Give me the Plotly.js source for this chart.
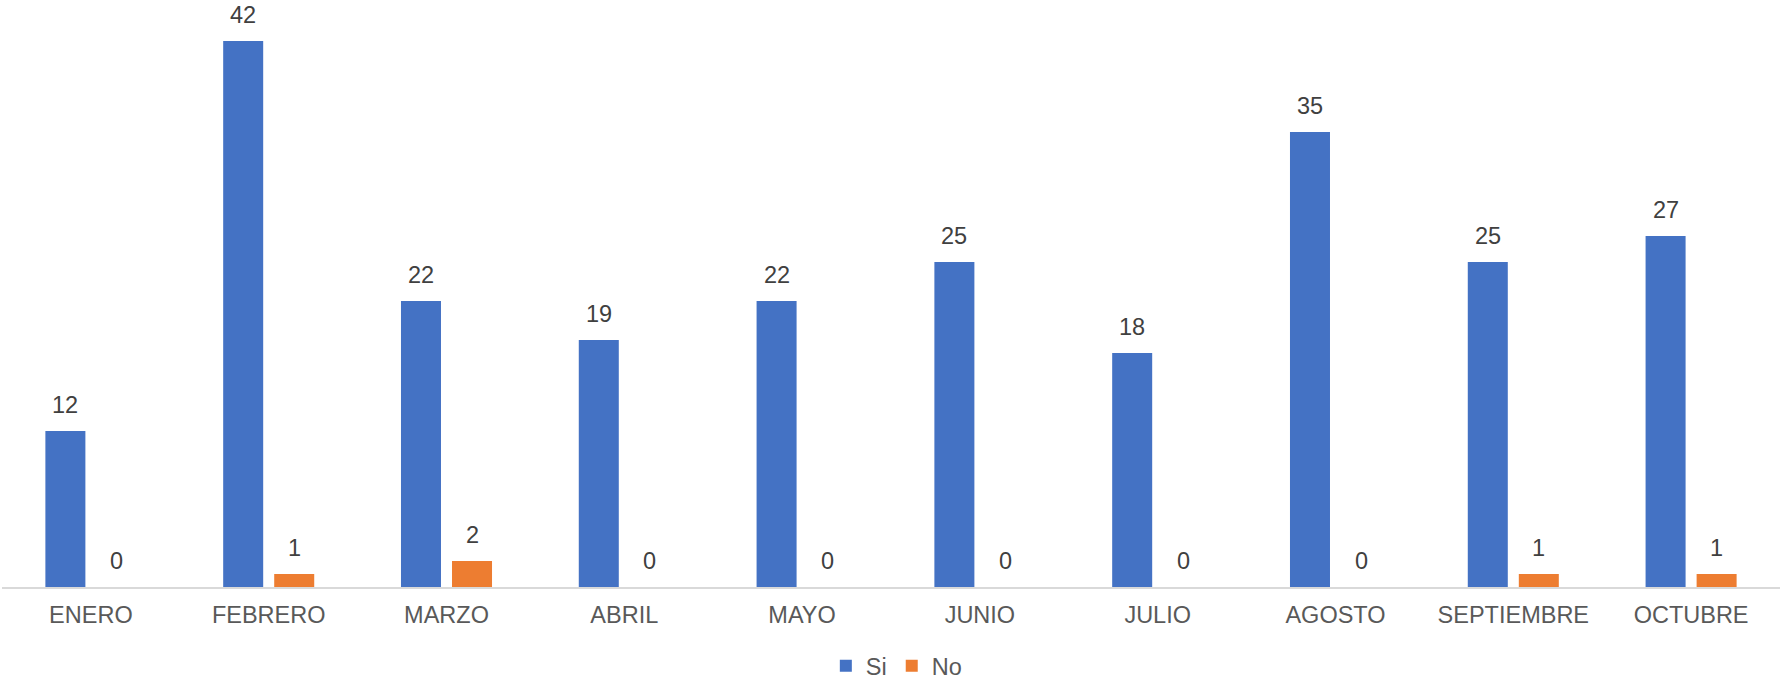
<!DOCTYPE html>
<html>
<head>
<meta charset="utf-8">
<script src="https://cdn.plot.ly/plotly-3.0.1.min.js"></script>
<style>html,body{margin:0;padding:0;background:#fff;}#chart{width:1780px;height:685px;}</style>
</head>
<body>
<div id="chart"></div>
<script>
const months = ["ENERO","FEBRERO","MARZO","ABRIL","MAYO","JUNIO","JULIO","AGOSTO","SEPTIEMBRE","OCTUBRE"];
const siValues = [12,42,22,19,22,25,18,35,25,27];
const noValues = [0,1,2,0,0,0,0,0,1,1];
const seriesNames = ["Si","No"];
const seriesColors = ["#4472C4","#ED7D31"];

const FONT = "Liberation Sans, Arial, sans-serif";
const FS = 23.5;

const traces = [siValues, noValues].map((vals, i) => ({
  type: "bar",
  x: months,
  y: vals,
  name: seriesNames[i],
  marker: {color: seriesColors[i]},
  hoverinfo: "x+y+name"
}));

const annotations = [];
[siValues, noValues].forEach((vals, i) => {
  vals.forEach((v, j) => {
    annotations.push({
      x: months[j], y: v, xref: "x", yref: "y",
      text: String(v), showarrow: false,
      xanchor: "center", yanchor: "bottom",
      xshift: i === 0 ? -25.5 : 25.5, yshift: 11,
      font: {family: FONT, size: FS, color: "#404040"}
    });
  });
});

const layout = {
  width: 1780, height: 685,
  margin: {l: 2, r: 0, t: 2, b: 98, autoexpand: false},
  paper_bgcolor: "#fff", plot_bgcolor: "#fff",
  barmode: "group", bargap: 0.426, bargroupgap: 0.216,
  font: {family: FONT, size: FS, color: "#595959"},
  xaxis: {
    showline: true, linecolor: "#d9d9d9", linewidth: 1.5,
    ticks: "", showgrid: false, zeroline: false, automargin: false,
    tickfont: {family: FONT, size: FS, color: "#595959"},
    ticklabelstandoff: 6
  },
  yaxis: {range: [0, 45], visible: false, showgrid: false, zeroline: false, automargin: false},
  showlegend: true,
  legend: {
    orientation: "h", x: 0.503, xanchor: "center", y: -0.135, yanchor: "middle",
    font: {family: FONT, size: FS, color: "#595959"},
    itemwidth: 30, traceorder: "normal"
  },
  annotations: annotations
};

Plotly.newPlot("chart", traces, layout, {displayModeBar: false, staticPlot: true});
</script>
</body>
</html>
